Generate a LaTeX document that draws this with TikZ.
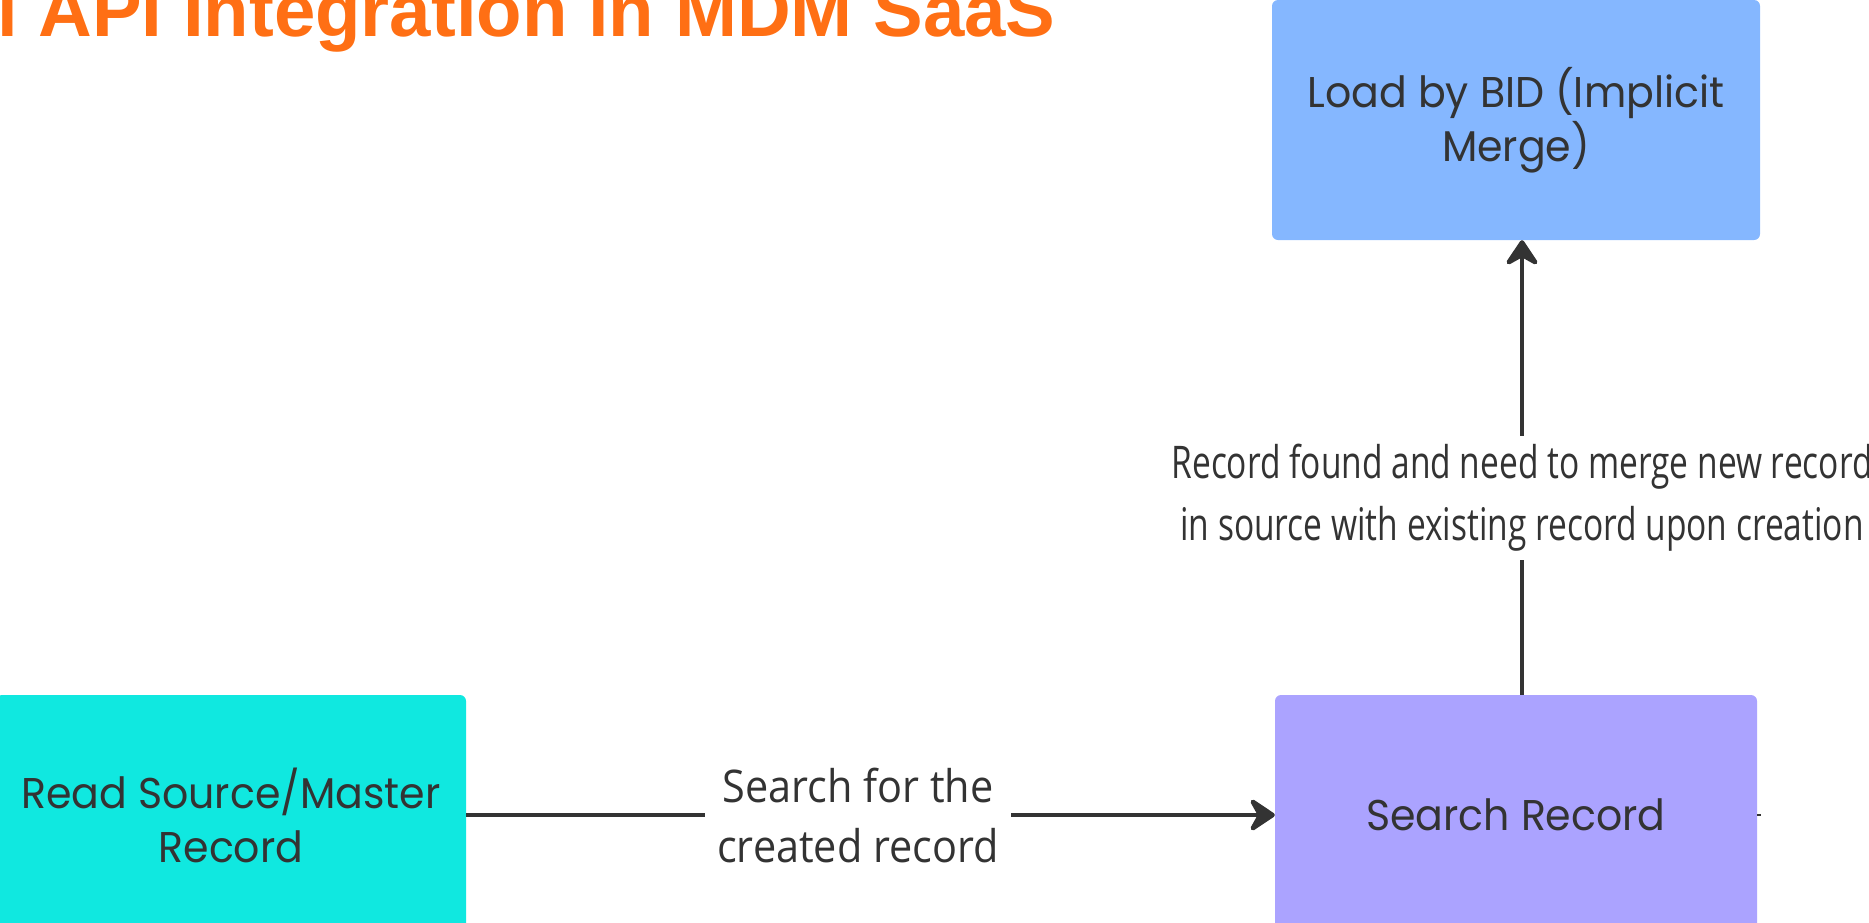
\documentclass[tikz,border=0pt]{standalone}
\usepackage{fontspec}
\setmainfont{Liberation Sans}
\newfontfamily\titlefont{Liberation Sans}
\newfontfamily\boxfont[FakeStretch=0.955]{Poppins}
\newfontfamily\hlblfont[FakeStretch=0.92]{Open Sans}
\newfontfamily\vlblfont[FakeStretch=0.745]{Open Sans}
\usetikzlibrary{arrows.meta}
\definecolor{titleorange}{HTML}{FF6F14}
\definecolor{loadblue}{HTML}{85B7FF}
\definecolor{readcyan}{HTML}{10E8E0}
\definecolor{searchviolet}{HTML}{ABA3FF}
\definecolor{inkgray}{HTML}{333333}
\tikzset{
  x=1pt, y=1pt,
  flowbox/.style={rounded corners=6pt, draw=none, minimum height=240pt, minimum width=482pt,
    align=center, text=inkgray, font=\boxfont\fontsize{43}{54}\selectfont, inner sep=0pt},
  conn/.style={draw=inkgray, line width=4.5pt, arrows={-Stealth[length=30pt 0 0, width=40pt 0 0, inset=11pt 0 0, line join=round]}},
  lbl/.style={fill=white, align=center, text=inkgray, inner xsep=12pt, inner ysep=8pt},
  hlbl/.style={lbl, font=\hlblfont\fontsize{45}{60}\selectfont},
  vlbl/.style={lbl, font=\vlblfont\fontsize{45}{62}\selectfont}
}
\begin{document}
\begin{tikzpicture}
\useasboundingbox (0,0) rectangle (1869,-922);
\node[anchor=base west, text=titleorange, font=\titlefont\bfseries\fontsize{74.4}{80}\selectfont, inner sep=0pt]
  (title) at (-3,-36) {l API Integration in MDM SaaS};
\node[flowbox, fill=loadblue, minimum width=488pt] (load) at (1516,-120) {Load by BID (Implicit\\Merge)};
\node[flowbox, fill=readcyan, minimum width=470pt] (read) at (231,-815) {Read Source/Master\\Record};
\node[flowbox, fill=searchviolet] (search) at (1516,-815) {Search Record};
\coordinate (stub) at ([xshift=4pt]search.east);
\draw[conn] (read.east) -- (search.west);
\draw[conn] ([xshift=6pt]search.north) -- ([xshift=6pt]load.south);
\draw[draw=inkgray, line width=2pt] (search.east) -- (stub);
\node[hlbl] (lblh) at (858,-815) {Search for the\\created record};
\node[vlbl] (lblv) at (1522,-498) {Record found and need to merge new record\\in source with existing record upon creation};
\end{tikzpicture}
\end{document}
